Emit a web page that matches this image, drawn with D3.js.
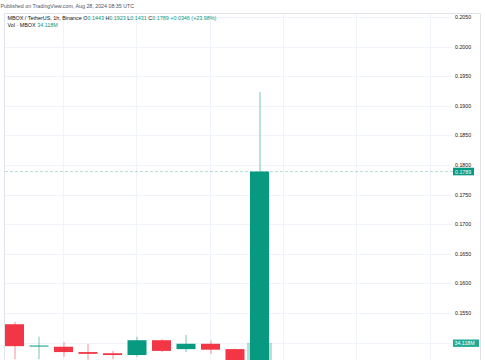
<!DOCTYPE html>
<html>
<head>
<meta charset="utf-8">
<script src="https://cdn.jsdelivr.net/npm/d3@7"></script>
<style>
  html, body { margin: 0; padding: 0; background: #fff; }
  svg { display: block; font-family: "Liberation Sans", Arial, sans-serif; }
</style>
</head>
<body>
<div id="chart"></div>
<script>
const width = 485;
const height = 360;

// MBOX / TetherUS, 1h candles
const candleTimes = ['22:00', '23:00', '28 00:00', '01:00', '02:00', '03:00', '04:00', '05:00', '06:00', '07:00', '08:00'];
const opens  = [0.1531, 0.1494, 0.1493, 0.1484, 0.1482, 0.1479, 0.1504, 0.1489, 0.1498, 0.1489, 0.1443];
const highs  = [0.1535, 0.1510, 0.1501, 0.1498, 0.1486, 0.1510, 0.1506, 0.1513, 0.1504, 0.1490, 0.1923];
const lows   = [0.1472, 0.1472, 0.1476, 0.1471, 0.1472, 0.1476, 0.1484, 0.1484, 0.1481, 0.1435, 0.1431];
const closes = [0.1494, 0.1495, 0.1484, 0.1481, 0.1479, 0.1504, 0.1486, 0.1498, 0.1488, 0.1443, 0.1789];
const volumes = [1.2, 0.4, 0.6, 0.3, 0.2, 0.9, 0.7, 0.5, 0.4, 1.6, 34.118]; // millions
const priceTicks = [0.1500, 0.1550, 0.1600, 0.1650, 0.1700, 0.1750, 0.1800, 0.1850, 0.1900, 0.1950, 0.2000, 0.2050];
const gridSlots = [2, 5, 8, 11, 14, 17];

const upColor = '#089981';
const downColor = '#f23645';

const svg = d3.select('#chart')
    .append('svg')
    .attr('width', width)
    .attr('height', height);

const x = d3.scaleLinear().domain([0, 10]).range([14.5, 259.5]);
const y = d3.scaleLinear().domain([0.1500, 0.2050]).range([342.6, 17]);
const yVol = d3.scaleLinear().domain([0, 34.118]).range([372, 343]);

// header
svg.append('text')
    .attr('x', 0.5)
    .attr('y', 8)
    .attr('font-size', 5.3)
    .attr('fill', '#50535e')
    .text('Published on TradingView.com, Aug 28, 2024 08:35 UTC');

// pane border
svg.append('path')
    .attr('d', 'M4.5,' + height + 'V13.5H480.5V' + height)
    .attr('fill', 'none')
    .attr('stroke', '#e0e3eb')
    .attr('stroke-width', 1);

// grid
const grid = svg.append('g');
grid.selectAll('line.h')
    .data(priceTicks)
    .enter()
    .append('line')
    .attr('x1', 5)
    .attr('x2', 452)
    .attr('y1', d => Math.round(y(d)) + 0.5)
    .attr('y2', d => Math.round(y(d)) + 0.5)
    .attr('stroke', '#f0f3fa');
grid.selectAll('line.v')
    .data(gridSlots)
    .enter()
    .append('line')
    .attr('x1', d => Math.round(x(d)) - 0.5)
    .attr('x2', d => Math.round(x(d)) - 0.5)
    .attr('y1', 14)
    .attr('y2', height)
    .attr('stroke', '#f0f3fa');

// price axis labels (the lowest one sits under the volume tag, as in the original)
svg.append('g')
    .selectAll('text')
    .data(priceTicks)
    .enter()
    .append('text')
    .attr('x', 455)
    .attr('y', d => y(d) + 2)
    .attr('font-size', 5.3)
    .attr('fill', '#131722')
    .text(d => d3.format('.4f')(d));

const candles = candleTimes.map((t, i) => ({
    t, o: opens[i], h: highs[i], l: lows[i], c: closes[i], v: volumes[i]
}));

// volume bars
svg.append('g')
    .selectAll('rect')
    .data(candles)
    .enter()
    .append('rect')
    .attr('x', (d, i) => x(i) - 12.5)
    .attr('width', 25)
    .attr('y', d => yVol(d.v))
    .attr('height', d => yVol(0) - yVol(d.v))
    .attr('fill', d => d.c >= d.o ? upColor : downColor)
    .attr('opacity', 0.3);

// wicks
svg.append('g')
    .selectAll('line')
    .data(candles)
    .enter()
    .append('line')
    .attr('x1', (d, i) => Math.round(x(i)))
    .attr('x2', (d, i) => Math.round(x(i)))
    .attr('y1', d => y(d.h))
    .attr('y2', d => y(d.l))
    .attr('stroke', d => d.c >= d.o ? upColor : downColor)
    .attr('stroke-width', 1)
    .attr('opacity', 0.55);

// bodies
svg.append('g')
    .selectAll('rect')
    .data(candles)
    .enter()
    .append('rect')
    .attr('x', (d, i) => x(i) - 9.5)
    .attr('width', 19)
    .attr('y', d => y(Math.max(d.o, d.c)))
    .attr('height', d => Math.max(1, Math.abs(y(d.o) - y(d.c))))
    .attr('fill', d => d.c >= d.o ? upColor : downColor);

// last price line
const last = closes[closes.length - 1];
svg.append('line')
    .attr('x1', 5)
    .attr('x2', 453)
    .attr('y1', y(last))
    .attr('y2', y(last))
    .attr('stroke', upColor)
    .attr('stroke-opacity', 0.3)
    .attr('stroke-dasharray', '3,2');
svg.append('rect')
    .attr('x', 453)
    .attr('y', y(last) - 3.8)
    .attr('width', 21)
    .attr('height', 7.6)
    .attr('fill', upColor);
svg.append('text')
    .attr('x', 455)
    .attr('y', y(last) + 2)
    .attr('font-size', 5.3)
    .attr('fill', '#fff')
    .text(d3.format('.4f')(last));

// volume label
const lastVol = volumes[volumes.length - 1];
svg.append('rect')
    .attr('x', 453)
    .attr('y', yVol(lastVol) - 3.5)
    .attr('width', 26)
    .attr('height', 7.4)
    .attr('fill', '#22ab94');
svg.append('text')
    .attr('x', 454.5)
    .attr('y', yVol(lastVol) + 2)
    .attr('font-size', 5.3)
    .attr('fill', '#fff')
    .text(lastVol + 'M');

// legend
const o = opens[10], h = highs[10], l = lows[10], c = closes[10];
const chg = c - o;
const legend = svg.append('text')
    .attr('x', 7.5)
    .attr('y', 19.5)
    .attr('font-size', 5.4)
    .attr('fill', '#131722');
legend.append('tspan').text('MBOX / TetherUS, 1h, Binance ');
[['O', o], ['H', h], ['L', l], ['C', c]].forEach(([k, v]) => {
    legend.append('tspan').text(k);
    legend.append('tspan').attr('fill', upColor).text(d3.format('.4f')(v) + ' ');
});
legend.append('tspan').attr('fill', upColor)
    .text('+' + d3.format('.4f')(chg) + ' (+' + d3.format('.2f')(chg / o * 100) + '%)');

const volLegend = svg.append('text')
    .attr('x', 7.5)
    .attr('y', 27)
    .attr('font-size', 5.4)
    .attr('fill', '#131722');
volLegend.append('tspan').text('Vol · MBOX ');
volLegend.append('tspan').attr('fill', upColor).text(lastVol + 'M');
</script>
</body>
</html>
